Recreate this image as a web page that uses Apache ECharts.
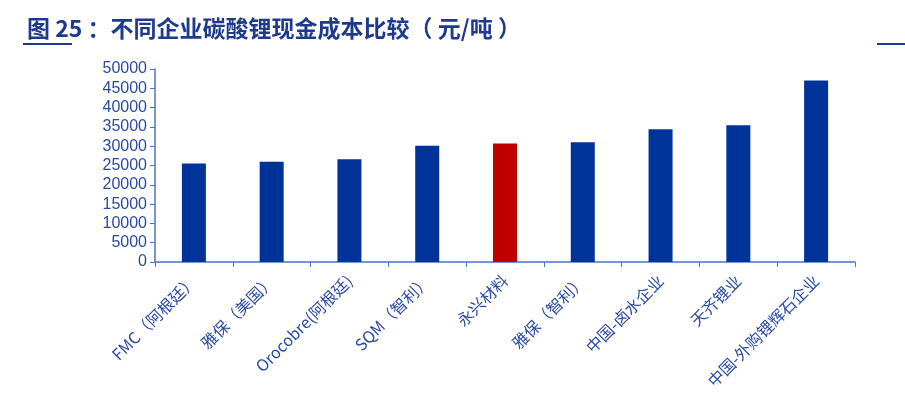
<!DOCTYPE html>
<html>
<head>
<meta charset="utf-8">
<script src="https://cdn.jsdelivr.net/npm/echarts@6/dist/echarts.min.js"></script>
<style>
  html, body { margin: 0; padding: 0; background: #fff; }
  #chart { width: 905px; height: 399px; }
</style>
</head>
<body>
<div id="chart"></div>
<script>
const categories = ['FMC（阿根廷）', '雅保（美国）', 'Orocobre(阿根廷)', 'SQM（智利）', '永兴材料', '雅保（智利）', '中国-卤水企业', '天齐锂业', '中国-外购锂辉石企业'];
const costValues = [25500, 26000, 26600, 30100, 30700, 31000, 34400, 35400, 47000];
const highlightIndex = 4;

const chart = echarts.init(document.getElementById('chart'));
const axisColor = '#4a74c9';
const labelColor = '#2a4aa3';

const option = {
    animation: false,
    textStyle: { fontFamily: '"Noto Sans CJK SC", "Liberation Sans", sans-serif' },
    title: {
        text: '图 25 ：不同企业碳酸锂现金成本比较（ 元/吨 ）',
        left: 22,
        top: 12,
        textStyle: {
            color: '#1d3a8f',
            fontSize: 23,
            fontWeight: 'bold',
            fontFamily: '"Noto Sans CJK SC", sans-serif'
        }
    },
    graphic: [
        { type: 'rect', shape: { x: 23, y: 43, width: 49, height: 2 }, style: { fill: '#1d3a8f' } },
        { type: 'rect', shape: { x: 877, y: 43, width: 28, height: 2 }, style: { fill: '#1d3a8f' } }
    ],
    grid: {
        left: 155,
        right: 50,
        top: 69,
        bottom: 137
    },
    xAxis: {
        type: 'category',
        data: categories,
        axisLine: { lineStyle: { color: axisColor, width: 1.5 } },
        axisTick: { show: true, length: 5, lineStyle: { color: axisColor } },
        axisLabel: {
            interval: 0,
            rotate: 45,
            color: labelColor,
            fontSize: 16,
            margin: 16
        }
    },
    yAxis: {
        type: 'value',
        min: 0,
        max: 50000,
        interval: 5000,
        splitLine: { show: false },
        axisLine: { show: true, lineStyle: { color: axisColor, width: 1.5 } },
        axisTick: { show: true, length: 5, lineStyle: { color: axisColor } },
        axisLabel: {
            color: labelColor,
            fontSize: 16,
            fontFamily: '"Liberation Sans", Arial, sans-serif',
            margin: 8,
            formatter: v => String(v)
        }
    },
    series: [
        {
            type: 'bar',
            barWidth: 24,
            data: costValues.map((v, i) => ({
                value: v,
                itemStyle: { color: i === highlightIndex ? '#c00000' : '#003399' }
            }))
        }
    ]
};

chart.setOption(option);

window.addEventListener('resize', _ => {
    chart.resize();
});
</script>
</body>
</html>
